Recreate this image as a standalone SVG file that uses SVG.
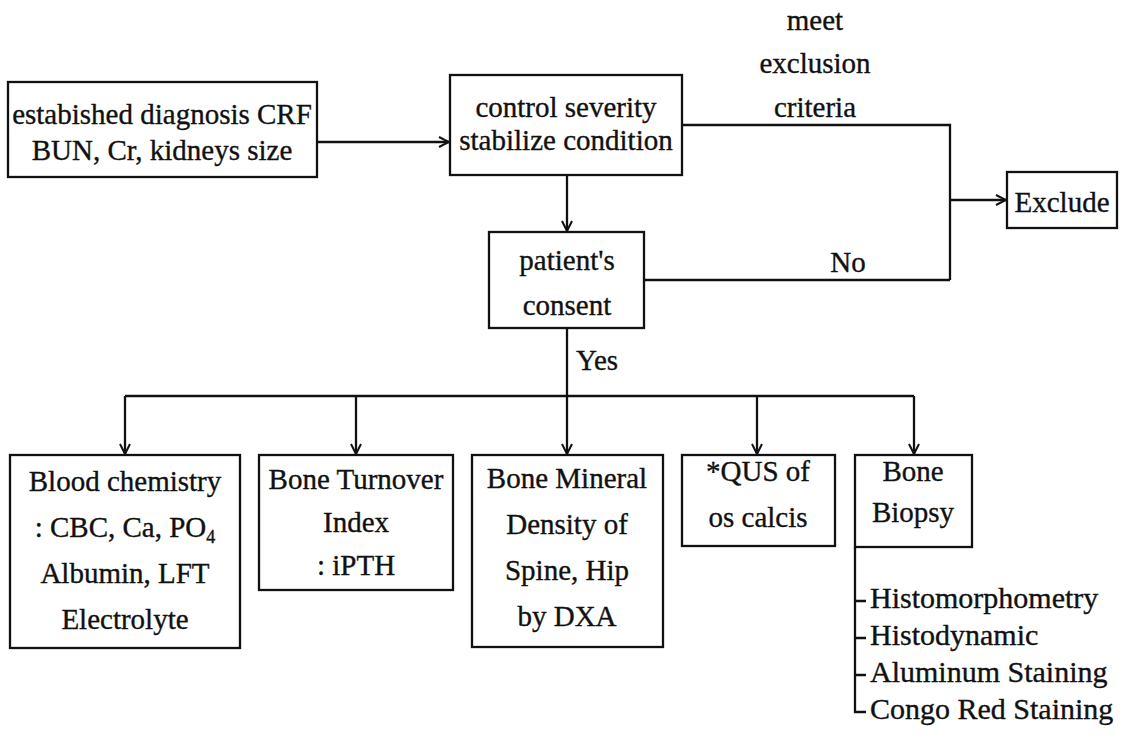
<svg xmlns="http://www.w3.org/2000/svg" width="1124" height="746" viewBox="0 0 1124 746">
<style>
  .bg { fill: #ffffff; }
  .box { fill: #ffffff; stroke: #111; stroke-width: 2.3; }
  .ln { fill: none; stroke: #111; stroke-width: 2.3; }
  .t { font-family: "Liberation Serif", "Times New Roman", serif; font-size: 29px; fill: #111; stroke: #111; stroke-width: 0.35; text-anchor: middle; }
  .l { font-family: "Liberation Serif", "Times New Roman", serif; font-size: 30px; fill: #111; stroke: #111; stroke-width: 0.35; text-anchor: start; }
</style>
<defs>
  <marker id="arr" viewBox="0 0 12 12" refX="11" refY="6" markerWidth="12" markerHeight="12" markerUnits="userSpaceOnUse" orient="auto">
    <path d="M1,1 L11,6 L1,11" fill="none" stroke="#111" stroke-width="2"/>
  </marker>
</defs>
<rect class="bg" x="0" y="0" width="1124" height="746"/>

<g id="connectors">
  <path class="ln" d="M317,142 H449" marker-end="url(#arr)"/>
  <path class="ln" d="M682,125 H950 V280"/>
  <path class="ln" d="M644,280 H950"/>
  <path class="ln" d="M950,200 H1006" marker-end="url(#arr)"/>
  <path class="ln" d="M567,175 V231" marker-end="url(#arr)"/>
  <path class="ln" d="M567,328 V454" marker-end="url(#arr)"/>
  <path class="ln" d="M125,396 H914"/>
  <path class="ln" d="M125,396 V454" marker-end="url(#arr)"/>
  <path class="ln" d="M356,396 V454" marker-end="url(#arr)"/>
  <path class="ln" d="M757,396 V454" marker-end="url(#arr)"/>
  <path class="ln" d="M914,396 V454" marker-end="url(#arr)"/>
  <path class="ln" d="M855,547 V712 H866"/>
  <path class="ln" d="M855,601 H866 M855,638 H866 M855,675 H866"/>
  <text class="t" x="815" y="30">meet</text>
  <text class="t" x="815" y="73">exclusion</text>
  <text class="t" x="815" y="117">criteria</text>
  <text class="t" x="848" y="272">No</text>
  <text class="t" x="597" y="370">Yes</text>
</g>

<g id="n-diagnosis">
  <rect class="box" x="8" y="82" width="309" height="95"/>
  <text class="t" x="162" y="124">estabished diagnosis CRF</text>
  <text class="t" x="162" y="160">BUN, Cr, kidneys size</text>
</g>

<g id="n-control">
  <rect class="box" x="450" y="75" width="232" height="100"/>
  <text class="t" x="566" y="117">control severity</text>
  <text class="t" x="566" y="150">stabilize condition</text>
</g>

<g id="n-exclude">
  <rect class="box" x="1007" y="172" width="110" height="56"/>
  <text class="t" x="1062" y="212">Exclude</text>
</g>

<g id="n-consent">
  <rect class="box" x="489" y="232" width="155" height="96"/>
  <text class="t" x="567" y="270">patient's</text>
  <text class="t" x="567" y="315">consent</text>
</g>

<g id="n-blood">
  <rect class="box" x="10" y="455" width="230" height="193"/>
  <text class="t" x="125" y="491">Blood chemistry</text>
  <text class="t" x="125" y="537">: CBC, Ca, PO<tspan font-size="18" dy="6">4</tspan></text>
  <text class="t" x="125" y="583">Albumin, LFT</text>
  <text class="t" x="125" y="629">Electrolyte</text>
</g>

<g id="n-turnover">
  <rect class="box" x="259" y="455" width="194" height="135"/>
  <text class="t" x="356" y="489">Bone Turnover</text>
  <text class="t" x="356" y="532">Index</text>
  <text class="t" x="356" y="575">: iPTH</text>
</g>

<g id="n-bmd">
  <rect class="box" x="472" y="455" width="191" height="192"/>
  <text class="t" x="567" y="488">Bone Mineral</text>
  <text class="t" x="567" y="534">Density of</text>
  <text class="t" x="567" y="580">Spine, Hip</text>
  <text class="t" x="567" y="626">by DXA</text>
</g>

<g id="n-qus">
  <rect class="box" x="682" y="455" width="153" height="91"/>
  <text class="t" x="758" y="481">*QUS of</text>
  <text class="t" x="758" y="527">os calcis</text>
</g>

<g id="n-biopsy">
  <rect class="box" x="855" y="455" width="117" height="92"/>
  <text class="t" x="913" y="481">Bone</text>
  <text class="t" x="913" y="522">Biopsy</text>
  <text class="l" x="870" y="608">Histomorphometry</text>
  <text class="l" x="870" y="645">Histodynamic</text>
  <text class="l" x="870" y="682">Aluminum Staining</text>
  <text class="l" x="870" y="719">Congo Red Staining</text>
</g>
</svg>
